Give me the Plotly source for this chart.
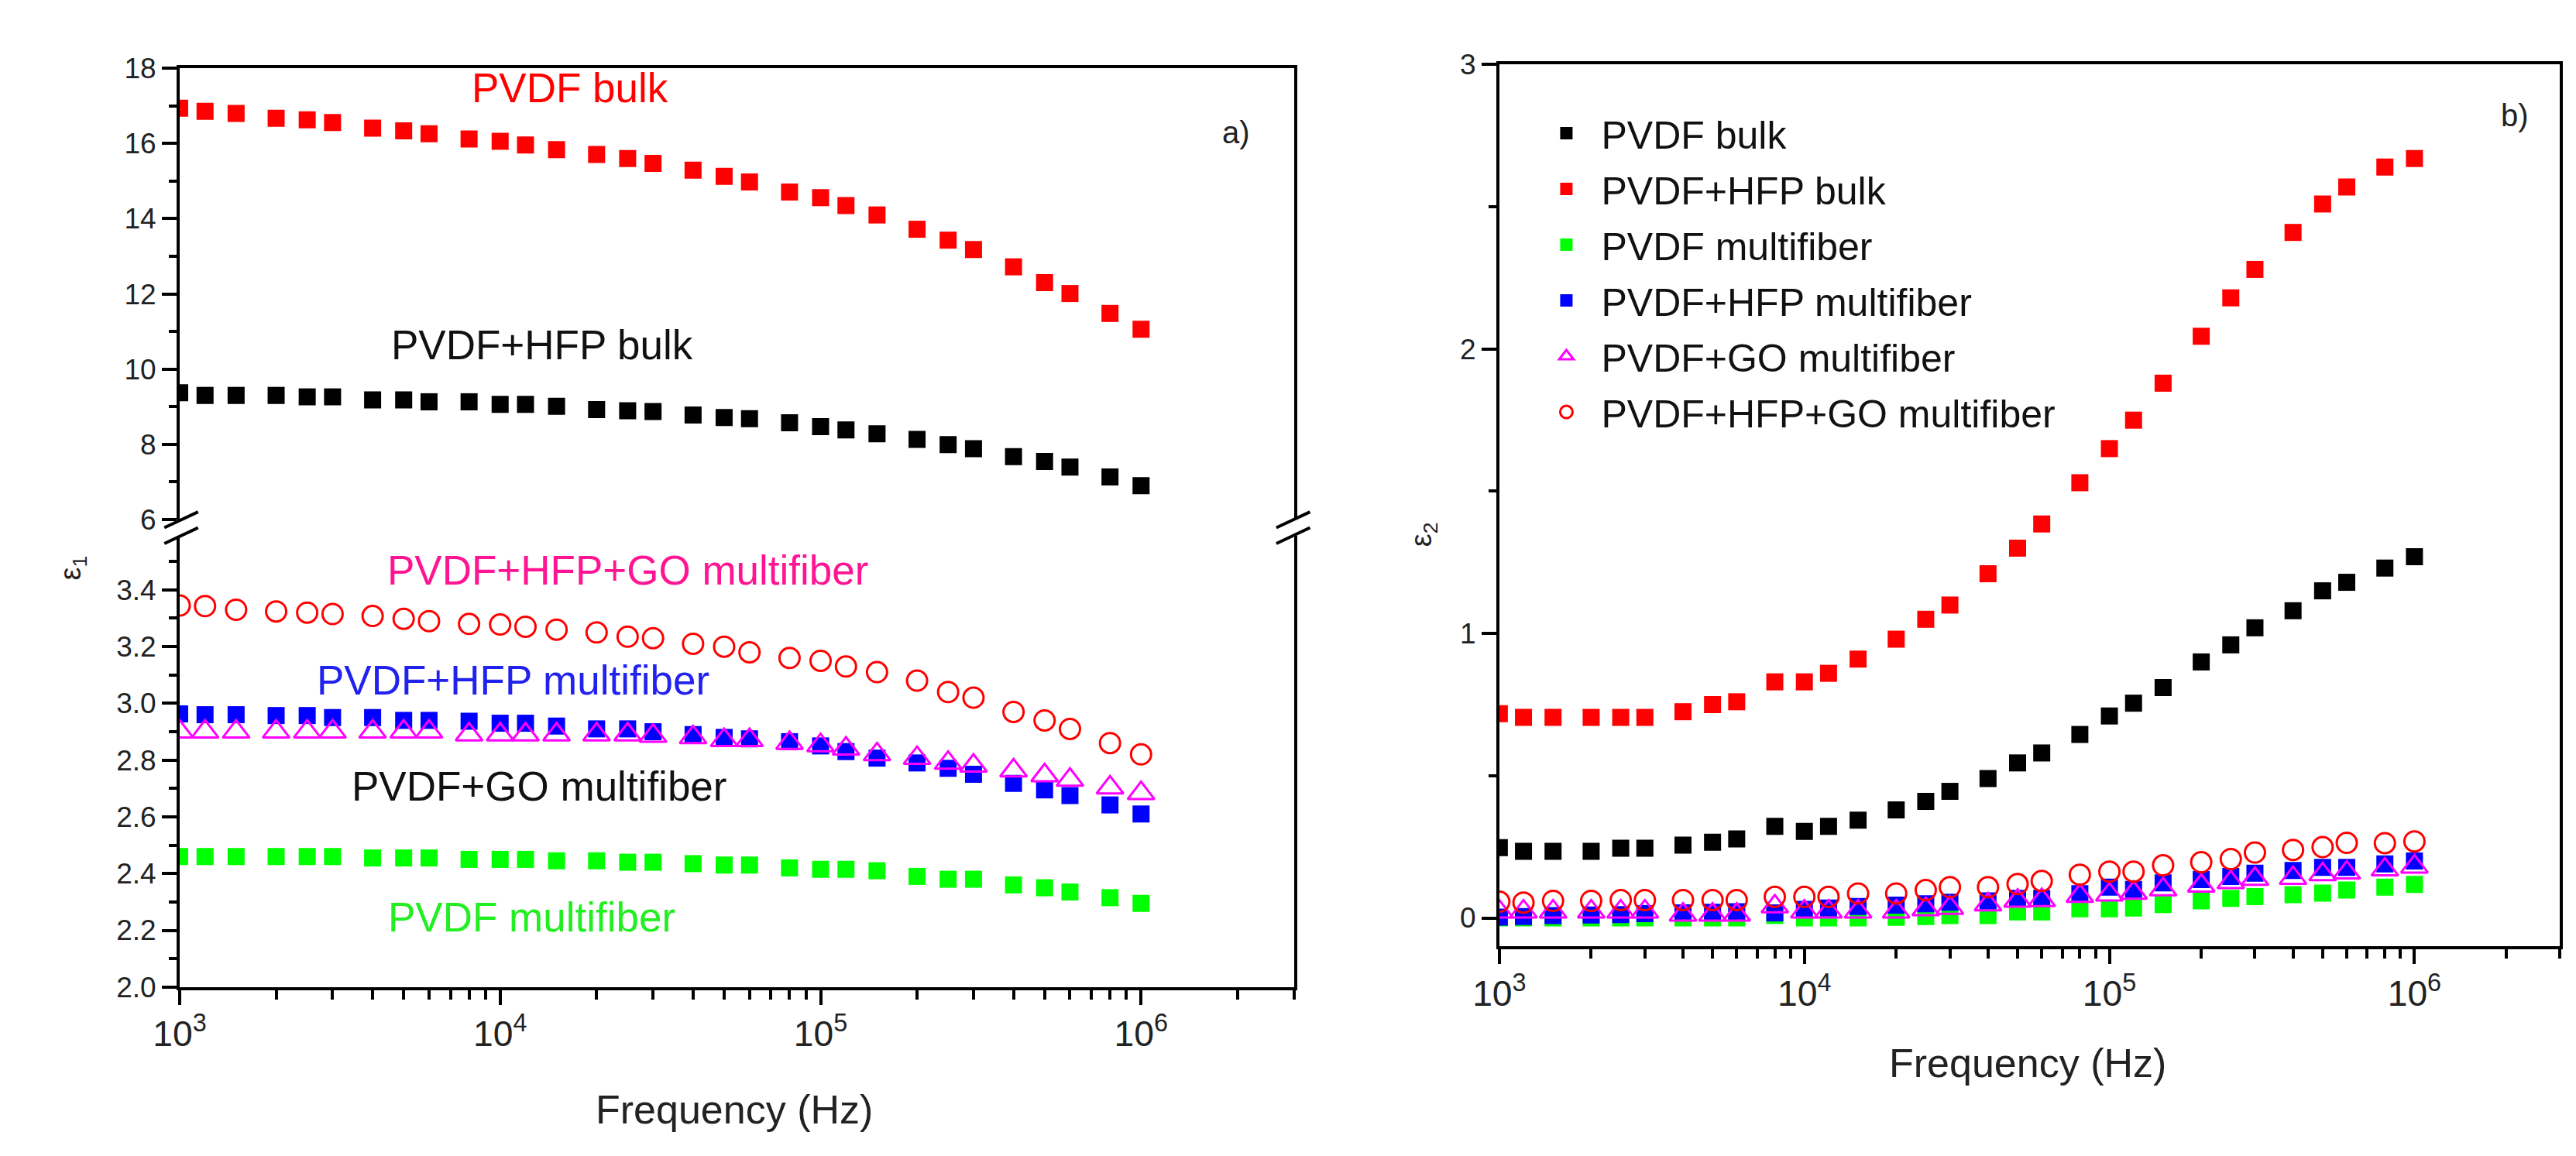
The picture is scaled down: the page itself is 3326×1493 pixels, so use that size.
import numpy as np
import plotly.graph_objects as go

# frequency points (Hz), shared by every series
freq = [1e3, 1.2e3, 1.5e3, 2e3, 2.5e3, 3e3, 4e3, 5e3, 6e3, 8e3,
        1e4, 1.2e4, 1.5e4, 2e4, 2.5e4, 3e4, 4e4, 5e4, 6e4, 8e4,
        1e5, 1.2e5, 1.5e5, 2e5, 2.5e5, 3e5, 4e5, 5e5, 6e5, 8e5, 1e6]

# panel a) - real permittivity eps1
pvdf_bulk_e1 = [16.94, 16.86, 16.80, 16.67, 16.63, 16.56, 16.41, 16.34, 16.26, 16.12,
                16.06, 15.96, 15.84, 15.71, 15.60, 15.47, 15.29, 15.13, 14.98, 14.71,
                14.56, 14.35, 14.10, 13.72, 13.43, 13.18, 12.72, 12.30, 12.01, 11.48, 11.06]
hfp_bulk_e1 = [9.37, 9.30, 9.30, 9.30, 9.26, 9.26, 9.18, 9.18, 9.13, 9.13,
               9.06, 9.06, 9.01, 8.92, 8.89, 8.87, 8.78, 8.71, 8.68, 8.57,
               8.47, 8.38, 8.28, 8.13, 7.99, 7.88, 7.67, 7.54, 7.39, 7.13, 6.90]
hfp_go_mf_e1 = [3.345, 3.343, 3.33, 3.324, 3.32, 3.315, 3.308, 3.298, 3.29, 3.28,
                3.278, 3.27, 3.26, 3.25, 3.235, 3.23, 3.21, 3.20, 3.18, 3.16,
                3.15, 3.13, 3.11, 3.08, 3.04, 3.02, 2.97, 2.94, 2.91, 2.86, 2.82]
hfp_mf_e1 = [2.963, 2.96, 2.96, 2.957, 2.957, 2.95, 2.95, 2.94, 2.94, 2.937,
             2.93, 2.93, 2.92, 2.91, 2.91, 2.90, 2.89, 2.88, 2.875, 2.865,
             2.85, 2.83, 2.807, 2.79, 2.771, 2.75, 2.718, 2.695, 2.675, 2.642, 2.61]
go_mf_e1 = [2.90, 2.90, 2.90, 2.90, 2.90, 2.90, 2.90, 2.90, 2.90, 2.89,
            2.89, 2.89, 2.89, 2.89, 2.89, 2.885, 2.88, 2.87, 2.87, 2.86,
            2.852, 2.84, 2.82, 2.807, 2.79, 2.78, 2.763, 2.746, 2.73, 2.703, 2.683]
pvdf_mf_e1 = [2.46, 2.46, 2.46, 2.46, 2.46, 2.46, 2.455, 2.455, 2.455, 2.45,
              2.45, 2.45, 2.445, 2.445, 2.44, 2.44, 2.435, 2.43, 2.43, 2.42,
              2.415, 2.415, 2.41, 2.39, 2.38, 2.38, 2.36, 2.35, 2.335, 2.315, 2.295]

# panel b) - imaginary permittivity eps2
pvdf_bulk_e2 = [0.247, 0.234, 0.234, 0.234, 0.245, 0.245, 0.256, 0.266, 0.278, 0.322,
                0.304, 0.322, 0.344, 0.38, 0.41, 0.445, 0.49, 0.545, 0.58, 0.645,
                0.71, 0.755, 0.81, 0.90, 0.96, 1.02, 1.08, 1.15, 1.18, 1.23, 1.27]
hfp_bulk_e2 = [0.718, 0.705, 0.705, 0.705, 0.705, 0.705, 0.725, 0.75, 0.76, 0.83,
               0.83, 0.86, 0.91, 0.98, 1.05, 1.10, 1.21, 1.30, 1.385, 1.53,
               1.65, 1.75, 1.88, 2.045, 2.18, 2.28, 2.41, 2.51, 2.57, 2.64, 2.67]
pvdf_mf_e2 = [0.0, 0.0, 0.0, 0.0, 0.0, 0.0, 0.0, 0.0, 0.0, 0.009,
              0.0, 0.0, 0.0, 0.002, 0.005, 0.008, 0.008, 0.021, 0.021, 0.032,
              0.032, 0.035, 0.047, 0.06, 0.069, 0.075, 0.082, 0.087, 0.098, 0.108, 0.118]
hfp_mf_e2 = [0.003, 0.005, 0.008, 0.01, 0.012, 0.015, 0.018, 0.02, 0.022, 0.018,
             0.03, 0.035, 0.04, 0.045, 0.05, 0.055, 0.06, 0.069, 0.069, 0.085,
             0.108, 0.10, 0.123, 0.135, 0.146, 0.157, 0.167, 0.178, 0.178, 0.19, 0.20]
go_mf_e2 = [0.022, 0.022, 0.022, 0.022, 0.022, 0.022, 0.011, 0.011, 0.011, 0.04,
            0.022, 0.022, 0.022, 0.022, 0.03, 0.035, 0.047, 0.06, 0.062, 0.077,
            0.082, 0.088, 0.10, 0.113, 0.125, 0.137, 0.14, 0.153, 0.159, 0.17, 0.18]
hfp_go_mf_e2 = [0.057, 0.054, 0.06, 0.06, 0.063, 0.063, 0.063, 0.063, 0.063, 0.074,
                0.074, 0.074, 0.086, 0.086, 0.098, 0.108, 0.108, 0.119, 0.13, 0.152,
                0.163, 0.163, 0.185, 0.196, 0.207, 0.23, 0.239, 0.249, 0.264, 0.263, 0.269]

W, H = 3326, 1493
FONT = "Liberation Sans, Arial, sans-serif"
TICKCOL = "#222222"


def px(x, y):
    # pixel position -> paper coords
    return x / W, 1 - y / H


def sq(color):
    return dict(symbol="square", size=22, color=color, line=dict(width=0))


tri = dict(symbol="triangle-up-open", size=30, color="#ff00ff", line=dict(width=3, color="#ff00ff"))
circ = dict(symbol="circle-open", size=26, color="#ff0000", line=dict(width=3, color="#ff0000"))

fig = go.Figure()

# panel a) upper segment
fig.add_trace(go.Scatter(x=freq, y=pvdf_bulk_e1, mode="markers", marker=sq("#ff0000"),
                         xaxis="x2", yaxis="y2", showlegend=False))
fig.add_trace(go.Scatter(x=freq, y=hfp_bulk_e1, mode="markers", marker=sq("#000000"),
                         xaxis="x2", yaxis="y2", showlegend=False))
# panel a) lower segment
fig.add_trace(go.Scatter(x=freq, y=pvdf_mf_e1, mode="markers", marker=sq("#00ff00"),
                         xaxis="x", yaxis="y", showlegend=False))
fig.add_trace(go.Scatter(x=freq, y=hfp_mf_e1, mode="markers", marker=sq("#0000ff"),
                         xaxis="x", yaxis="y", showlegend=False))
fig.add_trace(go.Scatter(x=freq, y=go_mf_e1, mode="markers", marker=tri,
                         xaxis="x", yaxis="y", showlegend=False))
fig.add_trace(go.Scatter(x=freq, y=hfp_go_mf_e1, mode="markers", marker=circ,
                         xaxis="x", yaxis="y", showlegend=False))

# panel b)
b_series = [
    ("PVDF bulk", pvdf_bulk_e2, sq("#000000")),
    ("PVDF+HFP bulk", hfp_bulk_e2, sq("#ff0000")),
    ("PVDF multifiber", pvdf_mf_e2, sq("#00ff00")),
    ("PVDF+HFP multifiber", hfp_mf_e2, sq("#0000ff")),
    ("PVDF+GO multifiber", go_mf_e2, tri),
    ("PVDF+HFP+GO multifiber", hfp_go_mf_e2, circ),
]
for i, (name, vals, mk) in enumerate(b_series):
    fig.add_trace(go.Scatter(x=freq, y=vals, mode="markers", marker=mk, name=name,
                             legendgroup="g%d" % i, xaxis="x3", yaxis="y3"))

xmax = np.log10(3e6)
common = dict(showline=True, linecolor="black", linewidth=4, showgrid=False, zeroline=False,
              ticks="outside", ticklen=19, tickwidth=4, tickcolor="black",
              tickfont=dict(family=FONT, size=37, color=TICKCOL))
logx = dict(type="log", range=[3, xmax], dtick=1, exponentformat="power",
            minor=dict(ticks="outside", dtick="D1", ticklen=12, tickwidth=4, tickcolor="black"))

fig.update_layout(
    width=W, height=H, autosize=False,
    margin=dict(l=0, r=0, t=0, b=0),
    paper_bgcolor="white", plot_bgcolor="white",
    font=dict(family=FONT, color="black"),
    xaxis=dict(domain=[191 / W, 1645 / W], anchor="y", **logx, **common),
    xaxis2=dict(domain=[191 / W, 1645 / W], anchor="y2", type="log", range=[3, xmax],
                side="top", matches="x", showline=True, linecolor="black", linewidth=4,
                ticks="", showticklabels=False, showgrid=False, zeroline=False),
    yaxis=dict(domain=[(H - 1282) / H, (H - 683) / H], anchor="x", range=[2.0, 3.59],
               tick0=2.0, dtick=0.2, tickformat=".1f", mirror=True,
               minor=dict(ticks="outside", dtick=0.1, ticklen=10, tickwidth=4, tickcolor="black"),
               **common),
    yaxis2=dict(domain=[(H - 661) / H, (H - 62) / H], anchor="x2", range=[6, 18],
                tick0=6, dtick=2, mirror=True,
                minor=dict(ticks="outside", dtick=1, ticklen=10, tickwidth=4, tickcolor="black"),
                **common),
    xaxis3=dict(domain=[1913 / W, 3297 / W], anchor="y3", mirror=True, **logx, **common),
    yaxis3=dict(domain=[(H - 1228) / H, (H - 57) / H], anchor="x3", range=[-0.1, 3],
                tick0=0, dtick=1, mirror=True,
                minor=dict(ticks="outside", dtick=0.5, ticklen=10, tickwidth=4, tickcolor="black"),
                **common),
    legend=dict(x=1955 / W, y=1 - 108 / H, xanchor="left", yanchor="top",
                bgcolor="rgba(0,0,0,0)", font=dict(family=FONT, size=50, color="#111"),
                itemsizing="trace", itemwidth=80, tracegroupgap=4),
)

# text labels inside panel a)
labels = [
    ("PVDF bulk", 700, 88, "#ff0000"),
    ("PVDF+HFP bulk", 664, 429, "#111111"),
    ("PVDF+HFP+GO multifiber", 776, 729, "#ff1493"),
    ("PVDF+HFP multifiber", 626, 875, "#2222ee"),
    ("PVDF+GO multifiber", 660, 1015, "#111111"),
    ("PVDF multifiber", 650, 1189, "#22ee22"),
]
for txt, lx, ly, col in labels:
    ax_, ay_ = px(lx, ly)
    fig.add_annotation(text=txt, x=ax_, y=ay_, xref="paper", yref="paper", showarrow=False,
                       xanchor="center", yanchor="middle",
                       font=dict(family=FONT, size=53, color=col))

other = [
    ("a)", 1570, 147, 40, 0),
    ("b)", 3238, 124, 40, 0),
    ("Frequency (Hz)", 915, 1445, 52, 0),
    ("Frequency (Hz)", 2602, 1383, 52, 0),
    ("ε<sub>1</sub>", 52, 725, 38, -90),
    ("ε<sub>2</sub>", 1814, 681, 38, -90),
]
for txt, lx, ly, size, ang in other:
    ax_, ay_ = px(lx, ly)
    fig.add_annotation(text=txt, x=ax_, y=ay_, xref="paper", yref="paper", showarrow=False,
                       xanchor="center", yanchor="middle", textangle=ang,
                       font=dict(family=FONT, size=size, color="#222222"))

# axis break marks on panel a)
for bx in (171, 1622):
    for by in (672, 693):
        x0, y0 = px(bx, by)
        x1, y1 = px(bx + 44, by - 21)
        fig.add_shape(type="line", xref="paper", yref="paper", x0=x0, y0=y0, x1=x1, y1=y1,
                      line=dict(color="black", width=4))

fig.write_html("out.html")
